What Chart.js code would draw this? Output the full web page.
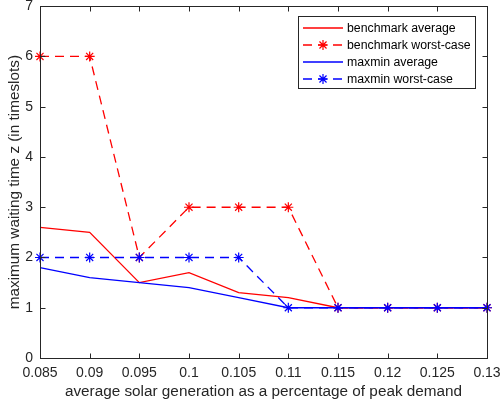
<!DOCTYPE html>
<html>
<head>
<meta charset="utf-8">
<script src="https://cdn.jsdelivr.net/npm/chart.js@4.4.1/dist/chart.umd.min.js"></script>
<style>
  html, body { margin: 0; padding: 0; background: #fff; }
</style>
</head>
<body>
<canvas id="chart" width="501" height="410"></canvas>
<script>
// solar generation share (x) and waiting times (y)
const solarShare = [0.085, 0.09, 0.095, 0.1, 0.105, 0.11, 0.115, 0.12, 0.125, 0.13];
const benchmarkAvg = [2.6, 2.5, 1.5, 1.7, 1.3, 1.2, 1.0, 1.0, 1.0, 1.0];
const benchmarkWorst = [6, 6, 2, 3, 3, 3, 1, 1, 1, 1];
const maxminAvg = [1.8, 1.6, 1.5, 1.4, 1.2, 1.0, 1.0, 1.0, 1.0, 1.0];
const maxminWorst = [2, 2, 2, 2, 2, 1, 1, 1, 1, 1];

const xTickLabels = ["0.085", "0.09", "0.095", "0.1", "0.105", "0.11", "0.115", "0.12", "0.125", "0.13"];
const yTickValues = [0, 1, 2, 3, 4, 5, 6, 7];
const seriesLabels = ["benchmark average", "benchmark worst-case", "maxmin average", "maxmin worst-case"];

const FONT = "'Liberation Sans', Arial, Helvetica, sans-serif";
const AXIS_COLOR = "#262626";
const RED = "#ff0000", BLUE = "#0000ff";
const DASH = [9, 6];

const toPoints = ys => ys.map((y, i) => ({ x: solarShare[i], y: y }));

function drawStar(ctx, x, y, r, color) {
  const d = r * Math.SQRT1_2;
  ctx.save();
  ctx.strokeStyle = color;
  ctx.lineWidth = 1.2;
  ctx.setLineDash([]);
  ctx.beginPath();
  ctx.moveTo(x - r, y); ctx.lineTo(x + r, y);
  ctx.moveTo(x, y - r); ctx.lineTo(x, y + r);
  ctx.moveTo(x - d, y - d); ctx.lineTo(x + d, y + d);
  ctx.moveTo(x - d, y + d); ctx.lineTo(x + d, y - d);
  ctx.stroke();
  ctx.restore();
}

// matlab-like box with inward ticks plus boxed legend
const matlabFrame = {
  id: "matlabFrame",
  afterDraw(chart) {
    const { ctx, chartArea: a, scales } = chart;
    ctx.save();
    ctx.strokeStyle = AXIS_COLOR;
    ctx.lineWidth = 1;
    ctx.setLineDash([]);
    const L = Math.round(a.left) + 0.5, R = Math.round(a.right) + 0.5;
    const T = Math.round(a.top) + 0.5, B = Math.round(a.bottom) + 0.5;
    ctx.strokeRect(L, T, R - L, B - T);
    const tl = 5;
    ctx.beginPath();
    solarShare.forEach(v => {
      const px = Math.round(scales.x.getPixelForValue(v)) + 0.5;
      ctx.moveTo(px, B); ctx.lineTo(px, B - tl);
      ctx.moveTo(px, T); ctx.lineTo(px, T + tl);
    });
    yTickValues.forEach(v => {
      const py = Math.round(scales.y.getPixelForValue(v)) + 0.5;
      ctx.moveTo(L, py); ctx.lineTo(L + tl, py);
      ctx.moveTo(R, py); ctx.lineTo(R - tl, py);
    });
    ctx.stroke();

    // legend
    const bx = 298.5, by = 16.5, bw = 177, bh = 72;
    ctx.fillStyle = "#fff";
    ctx.fillRect(bx, by, bw, bh);
    ctx.strokeRect(bx, by, bw, bh);
    ctx.font = "12.3px " + FONT;
    ctx.textBaseline = "middle";
    ctx.textAlign = "left";
    chart.data.datasets.forEach((ds, i) => {
      const y = 28 + i * 17;
      ctx.save();
      ctx.strokeStyle = ds.borderColor;
      ctx.lineWidth = 1.3;
      ctx.setLineDash(ds.borderDash || []);
      ctx.beginPath();
      ctx.moveTo(303, y); ctx.lineTo(343, y);
      ctx.stroke();
      ctx.restore();
      if (ds.pointRadius > 0) drawStar(ctx, 323, y, 5, ds.borderColor);
      ctx.fillStyle = "#000";
      ctx.fillText(ds.label, 347, y + 1);
    });
    ctx.restore();
  }
};

new Chart(document.getElementById("chart").getContext("2d"), {
  type: "line",
  data: {
    datasets: [
      { label: seriesLabels[0], data: toPoints(benchmarkAvg), borderColor: RED, borderWidth: 1.3,
        pointRadius: 0, order: 1 },
      { label: seriesLabels[1], data: toPoints(benchmarkWorst), borderColor: RED, borderWidth: 1.3,
        borderDash: DASH, pointStyle: "star", pointRadius: 5, pointBorderWidth: 1.2,
        pointBorderColor: RED, pointBackgroundColor: RED, order: 1 },
      { label: seriesLabels[2], data: toPoints(maxminAvg), borderColor: BLUE, borderWidth: 1.3,
        pointRadius: 0, order: 0 },
      { label: seriesLabels[3], data: toPoints(maxminWorst), borderColor: BLUE, borderWidth: 1.3,
        borderDash: DASH, pointStyle: "star", pointRadius: 5, pointBorderWidth: 1.2,
        pointBorderColor: BLUE, pointBackgroundColor: BLUE, order: 0 }
    ]
  },
  options: {
    responsive: false,
    animation: false,
    clip: false,
    tension: 0,
    layout: { padding: { top: 5, right: 14, left: 0, bottom: 0 } },
    plugins: { legend: { display: false }, tooltip: { enabled: false } },
    scales: {
      x: {
        type: "linear",
        min: 0.085,
        max: 0.13,
        afterBuildTicks: s => { s.ticks = solarShare.map(v => ({ value: v })); },
        afterFit: s => { s.height = 52; s.paddingLeft = 0; s.paddingRight = 0; },
        grid: { display: false, drawTicks: false },
        border: { display: false },
        ticks: {
          autoSkip: false, maxRotation: 0, padding: 7,
          color: AXIS_COLOR, font: { family: FONT, size: 14 },
          callback: (v, i) => xTickLabels[i]
        },
        title: {
          display: true, text: "average solar generation as a percentage of peak demand",
          color: AXIS_COLOR, font: { family: FONT, size: 15.3 }, padding: { top: 0, bottom: 9 }
        }
      },
      y: {
        min: 0,
        max: 7,
        afterBuildTicks: s => { s.ticks = yTickValues.map(v => ({ value: v })); },
        afterFit: s => { s.width = 40; s.paddingTop = 0; s.paddingBottom = 0; },
        grid: { display: false, drawTicks: false },
        border: { display: false },
        ticks: {
          padding: 7, color: AXIS_COLOR, font: { family: FONT, size: 14 },
          callback: v => String(v)
        },
        title: {
          display: true, text: "maximum waiting time z (in timeslots)",
          color: AXIS_COLOR, font: { family: FONT, size: 15.3 }, padding: { top: 6, bottom: 0 }
        }
      }
    }
  },
  plugins: [matlabFrame]
});
</script>
</body>
</html>
